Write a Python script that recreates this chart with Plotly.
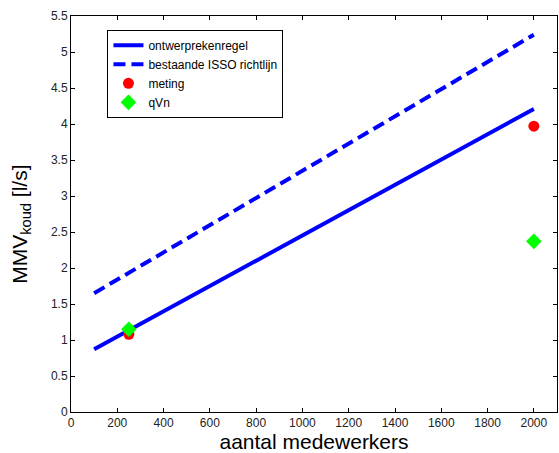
import plotly.graph_objects as go

line_x = [100, 2000]
ontwerp_y = [0.87, 4.21]
isso_y = [1.65, 5.24]
meting_x = [250, 2000]
meting_y = [1.08, 3.97]
qvn_x = [250, 2000]
qvn_y = [1.15, 2.37]

xticks = list(range(0, 2001, 200))
yticks = [i * 0.5 for i in range(12)]
yticklabels = ["0", "0.5", "1", "1.5", "2", "2.5", "3", "3.5", "4", "4.5", "5", "5.5"]

fig = go.Figure()
fig.add_trace(go.Scatter(x=line_x, y=ontwerp_y, mode="lines", name="ontwerprekenregel",
                         line=dict(color="#0000ff", width=4)))
fig.add_trace(go.Scatter(x=line_x, y=isso_y, mode="lines", name="bestaande ISSO richtlijn",
                         line=dict(color="#0000ff", width=4, dash="12px,6px")))
fig.add_trace(go.Scatter(x=meting_x, y=meting_y, mode="markers", name="meting",
                         marker=dict(color="#ff0000", size=11, symbol="circle")))
fig.add_trace(go.Scatter(x=qvn_x, y=qvn_y, mode="markers", name="qVn",
                         marker=dict(color="#00ff00", size=12, symbol="diamond")))

axis_common = dict(showgrid=False, zeroline=False, showline=True, linecolor="black", linewidth=1,
                   mirror="ticks", ticks="inside", ticklen=4, tickcolor="black",
                   tickfont=dict(family="Liberation Sans, Arial", size=12, color="#222"))

fig.update_xaxes(range=[0, 2100], tickvals=xticks, ticktext=[str(v) for v in xticks],
                 title=dict(text="aantal medewerkers", font=dict(family="Liberation Sans, Arial", size=21, color="black"), standoff=3),
                 **axis_common)
fig.update_yaxes(range=[0, 5.5], tickvals=yticks, ticktext=yticklabels, **axis_common)

fig.add_annotation(text="MMV<sub>koud</sub> [l/s]", xref="paper", yref="paper",
                   x=-0.103, y=0.475, xanchor="center", yanchor="middle", textangle=-90,
                   showarrow=False, font=dict(family="Liberation Sans, Arial", size=21, color="black"))

fig.update_layout(
    width=559, height=453,
    margin=dict(l=71, r=2, t=16, b=41),
    plot_bgcolor="white", paper_bgcolor="white",
    font=dict(family="Liberation Sans, Arial", size=12, color="black"),
    legend=dict(x=0.075, y=0.965, xanchor="left", yanchor="top",
                bgcolor="white", bordercolor="black", borderwidth=1,
                font=dict(family="Liberation Sans, Arial", size=12, color="black"),
                tracegroupgap=0, itemwidth=30),
    showlegend=True,
)

fig.write_html("out.html")
